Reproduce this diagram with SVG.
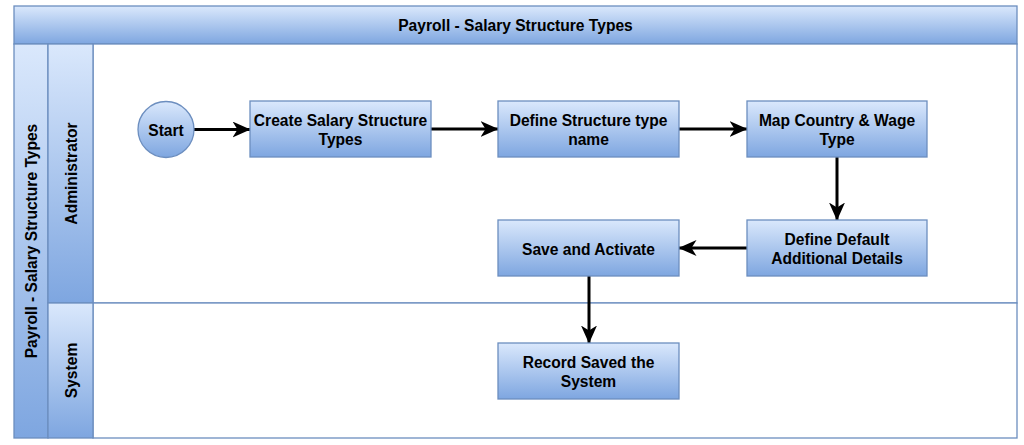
<svg xmlns="http://www.w3.org/2000/svg" width="1024" height="445" viewBox="0 0 1024 445">
<defs>
<linearGradient id="g" x1="0" y1="0" x2="0" y2="1">
<stop offset="0" stop-color="#dae8fc"/>
<stop offset="1" stop-color="#7ea6e0"/>
</linearGradient>
<marker id="arr" viewBox="0 0 18 16" refX="17.5" refY="8" markerWidth="18" markerHeight="16" markerUnits="userSpaceOnUse" orient="auto">
<path d="M0,0 L18,8 L0,16 L5,8 z" fill="#000"/>
</marker>
</defs>
<style>
.shape{fill:url(#g);stroke:#6c8ebf;stroke-width:1.3}
.lane{fill:#fff;stroke:#6c8ebf;stroke-width:1.3}
.t{font-family:"Liberation Sans",Arial,sans-serif;font-weight:bold;font-size:15.6px;fill:#000;text-anchor:middle}
.c{fill:none;stroke:#000;stroke-width:3;marker-end:url(#arr)}
</style>
<rect width="1024" height="445" fill="#fff"/>
<g id="pool">
<rect class="shape" x="14" y="6" width="1003" height="38"/>
<text class="t" x="515.5" y="31">Payroll - Salary Structure Types</text>
<rect class="shape" x="14" y="44" width="34" height="394"/>
<text class="t" transform="translate(37,241) rotate(-90)">Payroll - Salary Structure Types</text>
</g>
<g id="lane-admin">
<rect class="lane" x="93" y="44" width="924" height="259"/>
<rect class="shape" x="48" y="44" width="45" height="259"/>
<text class="t" transform="translate(76.5,173.5) rotate(-90)">Administrator</text>
</g>
<g id="lane-system">
<rect class="lane" x="93" y="303" width="924" height="135"/>
<rect class="shape" x="48" y="303" width="45" height="135"/>
<text class="t" transform="translate(76.5,370.5) rotate(-90)">System</text>
</g>
<g id="connectors">
<path class="c" d="M194,129.5 L250,129.5"/>
<path class="c" d="M431,129 L498,129"/>
<path class="c" d="M679,129 L747,129"/>
<path class="c" d="M837,157 L837,220"/>
<path class="c" d="M747,248 L679,248"/>
<path class="c" d="M589,276 L589,343"/>
</g>
<g id="start">
<circle class="shape" cx="166" cy="129.5" r="28"/>
<text class="t" x="166" y="136">Start</text>
</g>
<g id="create">
<rect class="shape" x="250" y="101" width="181" height="56"/>
<text class="t" x="340.5" y="126">Create Salary Structure</text>
<text class="t" x="340.5" y="145">Types</text>
</g>
<g id="define-name">
<rect class="shape" x="498" y="101" width="181" height="56"/>
<text class="t" x="588.5" y="126">Define Structure type</text>
<text class="t" x="588.5" y="145">name</text>
</g>
<g id="map">
<rect class="shape" x="747" y="101" width="180" height="56"/>
<text class="t" x="837" y="126">Map Country &amp; Wage</text>
<text class="t" x="837" y="145">Type</text>
</g>
<g id="define-default">
<rect class="shape" x="747" y="220" width="180" height="56"/>
<text class="t" x="837" y="245">Define Default</text>
<text class="t" x="837" y="264">Additional Details</text>
</g>
<g id="save">
<rect class="shape" x="498" y="220" width="181" height="56"/>
<text class="t" x="588.5" y="254.5">Save and Activate</text>
</g>
<g id="record">
<rect class="shape" x="498" y="343" width="181" height="56"/>
<text class="t" x="588.5" y="368">Record Saved the</text>
<text class="t" x="588.5" y="387">System</text>
</g>
</svg>
